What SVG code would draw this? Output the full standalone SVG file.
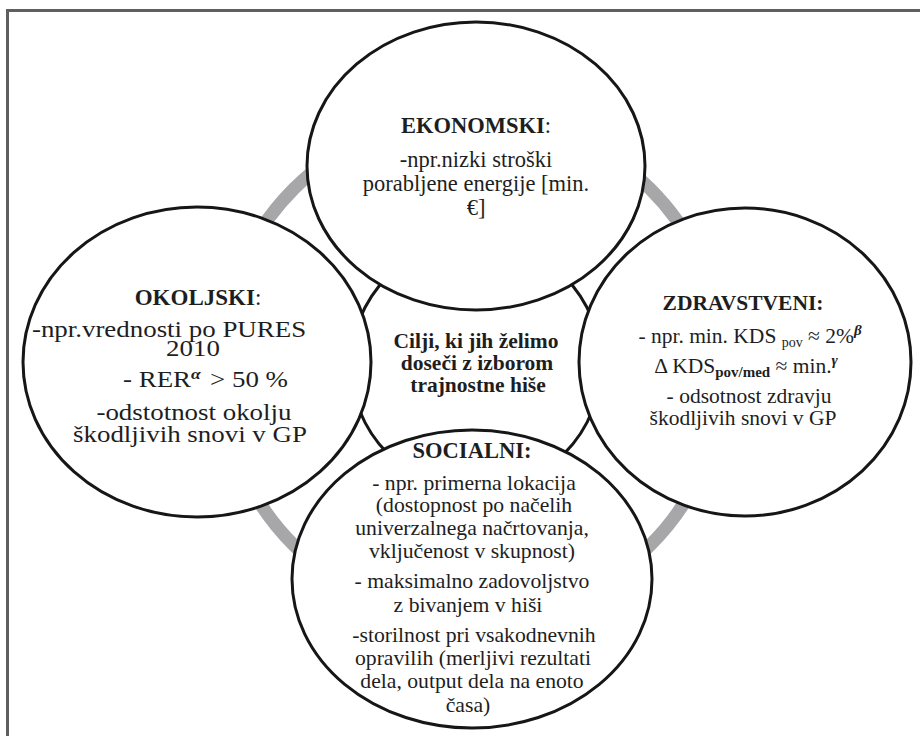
<svg xmlns="http://www.w3.org/2000/svg" width="920" height="736" viewBox="0 0 920 736">
<style>
  .fill { fill: #ffffff; stroke: none; }
  .outline { fill: none; stroke: #161616; stroke-width: 3; }
  .t { fill: #1e1e1e; text-anchor: middle; }
  .b { font-weight: bold; }
  .sup { font-style: italic; font-weight: bold; font-size: 15px; }
  .ring { fill: none; stroke: #a7a7a9; stroke-width: 13; }
  .frame { fill: none; stroke: #5f5f5f; stroke-width: 3; }
</style>
<rect x="0" y="0" width="920" height="736" fill="#ffffff"/>
<path class="frame" d="M7.5,740 V10.5 H925"/>

<g id="connectors">
  <circle class="ring" cx="472" cy="367" r="252"/>
</g>

<g font-family="Liberation Serif, DejaVu Serif, serif">
<g id="center">
  <circle cx="476" cy="365" r="125" fill="#ffffff" stroke="#161616" stroke-width="3"/>
  <text class="t b" font-size="21.5"><tspan x="476" y="348">Cilji, ki jih želimo</tspan><tspan x="477" y="370">doseči z izborom</tspan><tspan x="478" y="392">trajnostne hiše</tspan></text>
</g>

<g id="ekonomski">
  <ellipse class="fill" cx="476" cy="166" rx="169" ry="144"/>
  <text class="t" font-size="22.5" x="476" y="133"><tspan class="b">EKONOMSKI</tspan>:</text>
  <text class="t" font-size="22.5"><tspan x="476" y="167">-npr.nizki stroški</tspan><tspan x="476" y="191">porabljene energije [min.</tspan><tspan x="476" y="215">€]</tspan></text>
</g>

<g id="okoljski">
  <ellipse class="fill" cx="197" cy="362" rx="174" ry="155"/>
  <text class="t" font-size="23" x="198" y="305"><tspan class="b">OKOLJSKI</tspan>:</text>
  <g transform="translate(195,0) scale(1.17,1) translate(-195,0)">
    <text class="t" font-size="23"><tspan x="172.8" y="337">-npr.vrednosti po PURES</tspan><tspan x="193.3" y="356">2010</tspan></text>
    <text class="t" font-size="23" x="204" y="387">- RER<tspan class="sup" dy="-8">α</tspan><tspan dx="8" dy="8">&gt; 50 %</tspan></text>
    <text class="t" font-size="23"><tspan x="194.1" y="420">-odstotnost okolju</tspan><tspan x="190.7" y="442">škodljivih snovi v GP</tspan></text>
  </g>
</g>

<g id="zdravstveni">
  <ellipse class="fill" cx="745" cy="362" rx="166" ry="154"/>
  <text class="t b" font-size="21.5" x="743" y="310">ZDRAVSTVENI:</text>
  <text class="t" font-size="21.5" x="750" y="343">- npr. min. KDS <tspan font-size="14" dy="4">pov</tspan><tspan dy="-4"> ≈ 2%</tspan><tspan class="sup" dy="-8">β</tspan></text>
  <text class="t" font-size="21.5" x="746" y="373">Δ KDS<tspan font-size="15" class="b" dy="4">pov/med</tspan><tspan dy="-4"> ≈ min.</tspan><tspan class="sup" font-size="13" dy="-8">γ</tspan></text>
  <text class="t" font-size="21.5"><tspan x="749" y="403">- odsotnost zdravju</tspan><tspan x="743" y="425">škodljivih snovi v GP</tspan></text>
</g>

<g id="socialni">
  <ellipse class="fill" cx="472" cy="579" rx="180" ry="149"/>
  <text class="t b" font-size="22.5" x="472" y="458">SOCIALNI:</text>
  <text class="t" font-size="21.7"><tspan x="474" y="490">- npr. primerna lokacija</tspan><tspan x="474" y="512">(dostopnost po načelih</tspan><tspan x="472" y="535">univerzalnega načrtovanja,</tspan><tspan x="472" y="558">vključenost v skupnost)</tspan><tspan x="472" y="588">- maksimalno zadovoljstvo</tspan><tspan x="468" y="612">z bivanjem v hiši</tspan><tspan x="474" y="642">-storilnost pri vsakodnevnih</tspan><tspan x="473" y="665">opravilih (merljivi rezultati</tspan><tspan x="472" y="688">dela, output dela na enoto</tspan><tspan x="468" y="712">časa)</tspan></text>
</g>
</g>

<g id="outlines">
  <ellipse class="outline" cx="476" cy="166" rx="169" ry="144"/>
  <ellipse class="outline" cx="197" cy="362" rx="174" ry="155"/>
  <ellipse class="outline" cx="745" cy="362" rx="166" ry="154"/>
  <ellipse class="outline" cx="472" cy="579" rx="180" ry="149"/>
</g>
</svg>
